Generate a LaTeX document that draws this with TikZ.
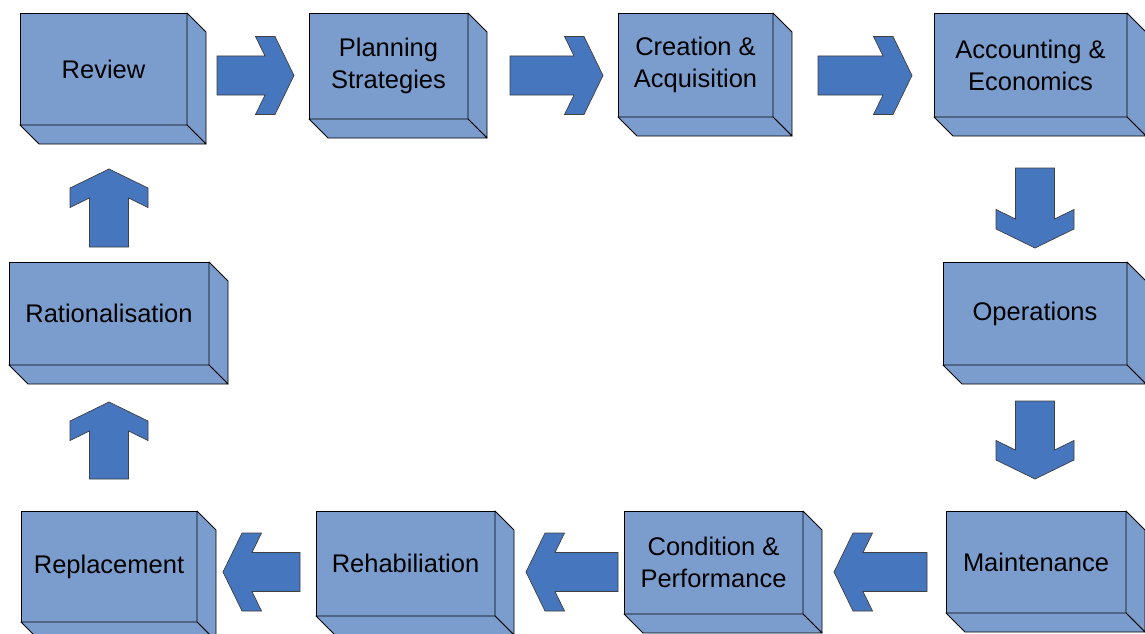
\documentclass[tikz,border=0pt]{standalone}
\usepackage{fontspec}
\setmainfont{Liberation Sans}
\usetikzlibrary{calc}

\definecolor{boxblue}{RGB}{123,157,206}
\definecolor{arrowblue}{RGB}{70,118,190}

% Front face of a box as a named node; the side and floor faces are added by \boxfaces
\tikzset{
  frontface/.style={draw=black, line width=0.9pt, fill=boxblue, rectangle,
    outer sep=0pt, inner sep=0pt, align=center,
    font=\fontsize{25.5}{32}\selectfont},
  depthface/.style={draw=black, line width=0.9pt, fill=boxblue, line join=round},
  blockarrowstyle/.style={draw=black!75, line width=0.7pt, fill=arrowblue, line join=miter}
}

% #1 node name, #2 depth
\newcommand\boxfaces[2]{%
  \draw[depthface] (#1.north east) -- ++(#2,#2) -- ($(#1.south east)+(#2,#2)$) -- (#1.south east) -- cycle;
  \draw[depthface] (#1.south west) -- ++(#2,#2) -- ($(#1.south east)+(#2,#2)$) -- (#1.south east) -- cycle;
}

% Chevron-headed block arrow: #1 tail coordinate, #2 direction angle, #3 length
\newcommand\blockarrow[3]{%
  \draw[blockarrowstyle, shift={(#1)}, rotate=#2]
    (0,-19.5) -- (#3-29,-19.5) -- (#3-38.5,-39) -- (#3-19,-39) -- (#3,0)
    -- (#3-19,39) -- (#3-38.5,39) -- (#3-29,19.5) -- (0,19.5) -- cycle;
}

\begin{document}
\begin{tikzpicture}[x=1pt, y=-1pt]
\useasboundingbox (0,0) rectangle (1145,634);
\clip (0,0) rectangle (1145,634);

% top row
\node[frontface, minimum width=167, minimum height=112] (review) at (103.5,69) {Review};
\node[frontface, minimum width=159, minimum height=106] (planning) at (388.5,66) {Planning\\Strategies};
\node[frontface, minimum width=155, minimum height=104] (creation) at (695.5,65) {Creation \&\\Acquisition};
\node[frontface, minimum width=193, minimum height=104] (accounting) at (1030.5,65) {Accounting \&\\Economics};

% right column
\node[frontface, minimum width=184, minimum height=103] (operations) at (1035,313.5) {Operations};
\node[frontface, minimum width=180, minimum height=102] (maintenance) at (1036,562) {Maintenance};

% bottom row
\node[frontface, minimum width=179, minimum height=103] (condition) at (713.5,562.5) {Condition \&\\Performance};
\node[frontface, minimum width=179, minimum height=105] (rehab) at (405.5,563.5) {Rehabiliation};
\node[frontface, minimum width=176, minimum height=111] (replacement) at (109,566.5) {Replacement};

% left column
\node[frontface, minimum width=200, minimum height=103] (rational) at (109,313.5) {Rationalisation};

\foreach \b in {review,planning,creation,accounting,operations,maintenance,condition,rehab,replacement,rational}
  {\boxfaces{\b}{19}}

% arrow tails
\coordinate (t1) at (217,75.5);
\coordinate (t2) at (510,75.5);
\coordinate (t3) at (818,75.5);
\coordinate (t4) at (1035,168);
\coordinate (t5) at (1035,401);
\coordinate (t6) at (927,572);
\coordinate (t7) at (618,572);
\coordinate (t8) at (300,572);
\coordinate (t9) at (109,479);
\coordinate (t10) at (109,247);

\blockarrow{t1}{0}{77}
\blockarrow{t2}{0}{93}
\blockarrow{t3}{0}{94}
\blockarrow{t4}{-90}{80}
\blockarrow{t5}{-90}{78}
\blockarrow{t6}{180}{93}
\blockarrow{t7}{180}{92}
\blockarrow{t8}{180}{77}
\blockarrow{t9}{90}{77}
\blockarrow{t10}{90}{78}
\end{tikzpicture}
\end{document}
